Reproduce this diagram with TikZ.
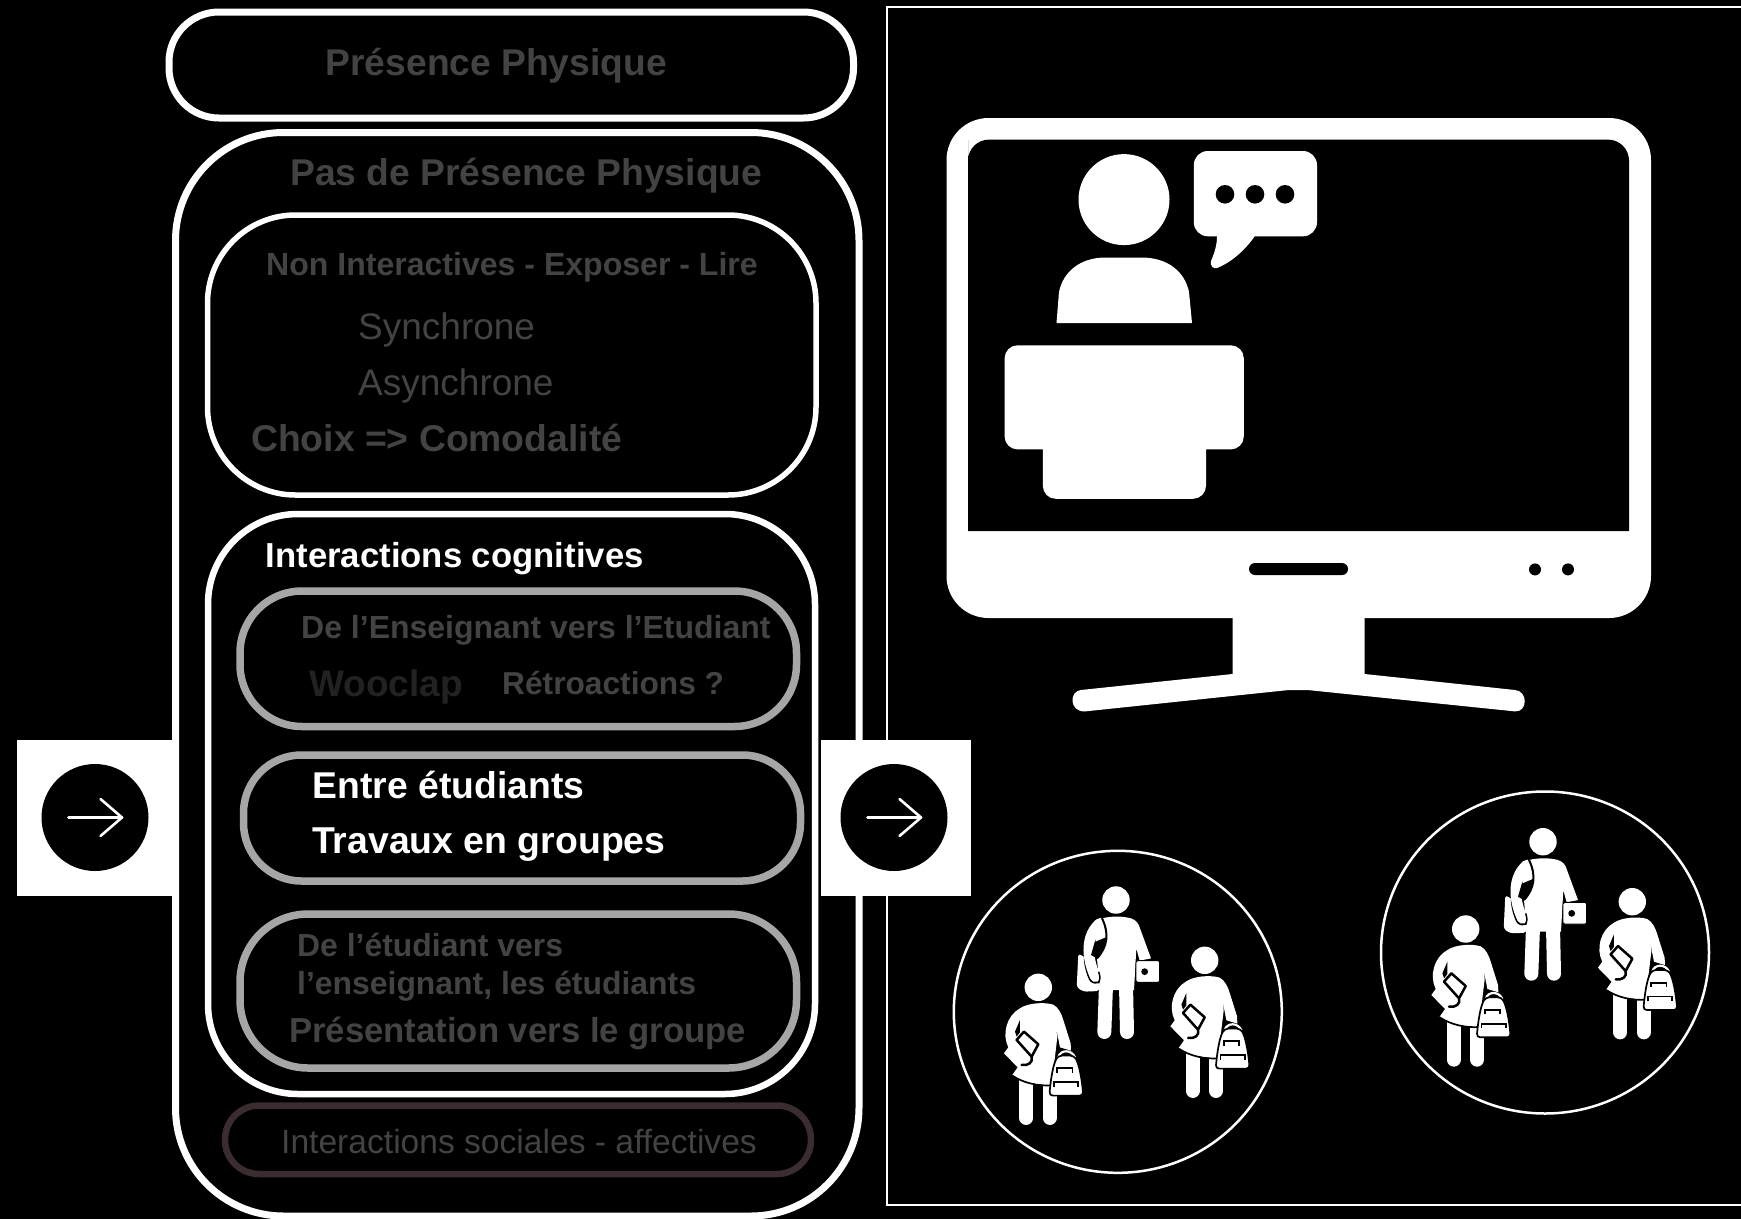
\documentclass[tikz,border=0pt]{standalone}
\usepackage{fontspec}
\setmainfont{Liberation Sans}
\definecolor{dimtxt}{HTML}{434343}
\definecolor{dimmer}{HTML}{222222}
\definecolor{greybox}{HTML}{A6A6A6}
\definecolor{socbox}{HTML}{3A2C2F}
\newcommand{\fsz}[1]{\fontsize{#1}{#1}\selectfont}
\tikzset{
  lbl/.style={anchor=base west,inner sep=0pt,text=dimtxt,font=\bfseries},
  wbox/.style={draw=white,line width=7pt},
  gbox/.style={draw=greybox,line width=7.5pt},
  thinline/.style={draw=white,line width=2.5pt},
  arr/.style={white,line width=2.6pt,line cap=round,line join=round},
}
\newcommand{\arrowbadge}[4]{% rect x0, rect x1, circle x, name
  \fill[white] (#1,740) rectangle (#2,896);
  \node[circle,fill=black,minimum size=107pt,inner sep=0pt] (#4) at (#3,817.5) {};
  \draw[arr] ([xshift=-26.5pt]#4.center) -- ([xshift=27pt]#4.center);
  \draw[arr] ([xshift=5.5pt,yshift=18.5pt]#4.center) -- ([xshift=27pt]#4.center) -- ([xshift=5.5pt,yshift=-18.5pt]#4.center);
}
\newcommand{\femalefig}[1]{%
\begin{scope}[shift={(#1)},x=0.3333pt,y=-0.3333pt]
  \fill[white] (0,0) circle (13.7pt);
  \draw[white,line width=14pt,line cap=round] (-36,280) -- (-36,392);
  \draw[white,line width=14pt,line cap=round] (34,280) -- (34,392);
  \fill[white] (-55,63) .. controls (-30,46) and (20,44) .. (45,52) .. controls (60,60) and (70,80) .. (75,98) -- (97,168) -- (98,190) -- (65,180) -- (53,118) -- (57,150) -- (40,292) .. controls (0,295) and (-45,285) .. (-78,263) -- (-62,240) -- (-103,198) -- (-90,180) .. controls (-110,140) and (-95,85) .. (-55,63) -- cycle;
  \fill[black] (-55,98) -- (-70,133) -- (-65,148) -- (-55,135) -- cycle;
  \draw[black,line width=2.5pt,line join=round,line cap=round] (-65,158) -- (-43,133) -- (0,171) -- (-20,208) .. controls (-15,225) and (-30,236) .. (-50,233);
  \draw[black,line width=2.5pt,line cap=round] (-65,158) -- (-30,197) -- (-20,208);
  \draw[black,line width=1.7pt] (-78,265) .. controls (-45,287) and (0,297) .. (40,294);
  \draw[white,line width=2.2pt] (60,210) .. controls (66,186) and (100,186) .. (110,210);
  \draw[black,fill=white,line width=1.7pt,rounded corners=3.5pt] (60,205) .. controls (45,230) and (38,270) .. (33,325) -- (135,325) .. controls (130,270) and (122,230) .. (107,205) -- cycle;
  \draw[black,line width=1.7pt] (57,256) -- (57,243) -- (103,243) -- (103,256);
  \draw[black,line width=1.7pt] (47,298) -- (47,284) -- (120,284) -- (120,298);
\end{scope}}
\newcommand{\malefig}[1]{%
\begin{scope}[shift={(#1)},x=0.3333pt,y=-0.3333pt]
  \fill[white] (0,0) circle (13.7pt);
  \fill[white,rounded corners=3pt] (-113,160) -- (-118,262) -- (-97,275) -- (-50,273) -- (-50,200) -- cycle;
  \draw[white,line width=14pt,line cap=round] (-30,255) -- (-35,396);
  \draw[white,line width=14pt,line cap=round] (30,255) -- (33,396);
  \draw[black,line width=14pt,line cap=round] (-72,130) .. controls (-80,170) and (-75,200) .. (-62,230);
  \draw[white,line width=10.7pt,line cap=round] (-48,70) .. controls (-90,105) and (-90,170) .. (-62,230);
  \fill[white] (-42,55) .. controls (-15,48) and (20,48) .. (45,55) .. controls (60,60) and (68,70) .. (72,85) -- (105,175) -- (71,182) -- (61,145) -- (54,270) -- (-51,270) -- (-51,248) -- (-57,175) .. controls (-25,140) and (-20,100) .. (-42,58) -- cycle;
  \fill[white] (-62,70) -- (-42,56) -- (-27,110) -- (-62,125) -- cycle;
  \draw[black,line width=2pt] (-42,55) .. controls (-20,100) and (-25,140) .. (-57,175);
  \fill[black] (-62,120) -- (-75,165) -- (-57,175) -- cycle;
  \draw[black,line width=1.5pt] (-52,215) .. controls (-47,230) and (-47,240) .. (-52,250);
  \draw[black,line width=0.9pt,fill=white,rounded corners=1.5pt] (60,182) rectangle (131,247);
  \fill[black] (86,215) circle (3.4pt);
\end{scope}}
\begin{document}
\begin{tikzpicture}[x=1pt,y=-1pt]
\useasboundingbox (0,0) rectangle (1741,1219);
\clip (0,0) rectangle (1741,1219);
\fill[black] (0,0) rectangle (1741,1219);

% right frame
\draw[thinline] (1760,7) -- (887,7) -- (887,1205) -- (1760,1205);

% left column boxes
\draw[wbox,rounded corners=50pt] (169,12) rectangle (853.5,118);
\draw[wbox,rounded corners=108pt] (175.5,132.5) rectangle (859,1216);
\draw[draw=white,line width=5.5pt,rounded corners=88pt] (207.5,215) rectangle (816,495);
\draw[draw=white,line width=6.5pt,rounded corners=90pt] (208,514) rectangle (815,1094);
\draw[gbox,rounded corners=62pt] (240,591) rectangle (796.5,726.5);
\draw[gbox,rounded corners=58pt] (243.5,755) rectangle (800.5,881);
\draw[gbox,rounded corners=68pt] (240,914) rectangle (796.5,1068);
\draw[draw=socbox,line width=6.5pt,rounded corners=34pt] (225,1105.5) rectangle (811,1174);

% labels
\node[lbl,font=\bfseries\fsz{37.2}] (t1) at (325.5,75.5) {Présence Physique};
\node[lbl,font=\bfseries\fsz{37.25}] (t2) at (290,185.2) {Pas de Présence Physique};
\node[lbl,font=\bfseries\fsz{32.05}] (t3) at (266,275.8) {Non Interactives - Exposer - Lire};
\node[lbl,font=\fsz{37}] (t4) at (358,339.7) {Synchrone};
\node[lbl,font=\fsz{37}] (t5) at (358,395.5) {Asynchrone};
\node[lbl,font=\bfseries\fsz{37.3}] (t6) at (251,451.8) {Choix => Comodalité};
\node[lbl,font=\bfseries\fsz{34.7},text=white] (t7) at (265.5,567) {Interactions cognitives};
\node[lbl,font=\bfseries\fsz{32}] (t8) at (301,638) {De l’Enseignant vers l’Etudiant};
\node[lbl,font=\bfseries\fsz{37},text=dimmer] (t9) at (309,696.5) {Wooclap};
\node[lbl,font=\bfseries\fsz{31.7}] (t10) at (502,694.2) {Rétroactions ?};
\node[lbl,font=\bfseries\fsz{37.3},text=white] (t11) at (312.5,798.6) {Entre étudiants};
\node[lbl,font=\bfseries\fsz{37.4},text=white] (t12) at (312,853.9) {Travaux en groupes};
\node[lbl,font=\bfseries\fsz{31.9}] (t13) at (297,956) {De l’étudiant vers};
\node[lbl,font=\bfseries\fsz{31.9}] (t14) at (297,994) {l’enseignant, les étudiants};
\node[lbl,font=\bfseries\fsz{34.7}] (t15) at (289,1042.2) {Présentation vers le groupe};
\node[lbl,font=\fsz{33.6}] (t16) at (281,1153.5) {Interactions sociales - affectives};

% arrow badges
\arrowbadge{17}{174}{95}{leftbadge}
\arrowbadge{821}{971}{894}{rightbadge}

% monitor
\fill[white,rounded corners=42pt] (946.5,118) rectangle (1651,618);
\fill[black] (968,531) -- (968,140) [rounded corners=21pt] -- (968,139.6) -- (1629,139.6) [sharp corners] -- (1629,531) -- cycle;
\fill[black,rounded corners=6pt] (1249,563) rectangle (1348,575);
\fill[black] (1535,569.4) circle (6pt);
\fill[black] (1568,569.4) circle (6pt);
\fill[white] (1232.5,610) -- (1232.5,674) -- (1081,690) .. controls (1069,691) and (1069,712) .. (1085,711.4) -- (1288.7,690) -- (1307.5,690) -- (1515,711.4) .. controls (1528,712) and (1528,691) .. (1515,690) -- (1364.6,674) -- (1364.6,610) -- cycle;

% presenter
\fill[white] (1124,199.6) circle (45.5pt);
\fill[white] (1056.5,323) -- (1059,292) .. controls (1063,272) and (1080,257.5) .. (1105.5,257.5) -- (1141.4,257.5) .. controls (1168,257.5) and (1185,272) .. (1189,292) -- (1192,323) -- cycle;
\fill[white,rounded corners=13pt] (1004.6,345.3) rectangle (1243.8,449.4);
\fill[white,rounded corners=13pt] (1042.8,420) rectangle (1206,498.8);
% speech bubble
\fill[white,rounded corners=14pt] (1193.8,151) rectangle (1317,236.3);
\fill[white] (1217,230) -- (1217,236.3) .. controls (1217,246) and (1214,254) .. (1211,261) .. controls (1210,266) and (1213,269) .. (1217,268) .. controls (1232,262) and (1245,250) .. (1254.7,236.3) -- (1254.7,230) -- cycle;
\fill[black] (1225,194.3) circle (9.3pt);
\fill[black] (1255,194.3) circle (9.3pt);
\fill[black] (1285,194.3) circle (9.3pt);

% student groups
\draw[thinline] (1117.8,1011.8) ellipse [x radius=164pt,y radius=161pt];
\femalefig{1038.3,987.3}
\malefig{1116,900}
\femalefig{1204.7,960.3}

\draw[thinline] (1545,952.5) ellipse [x radius=164pt,y radius=161pt];
\femalefig{1465.7,929}
\malefig{1543,841.7}
\femalefig{1632.3,901.7}
\end{tikzpicture}
\end{document}
